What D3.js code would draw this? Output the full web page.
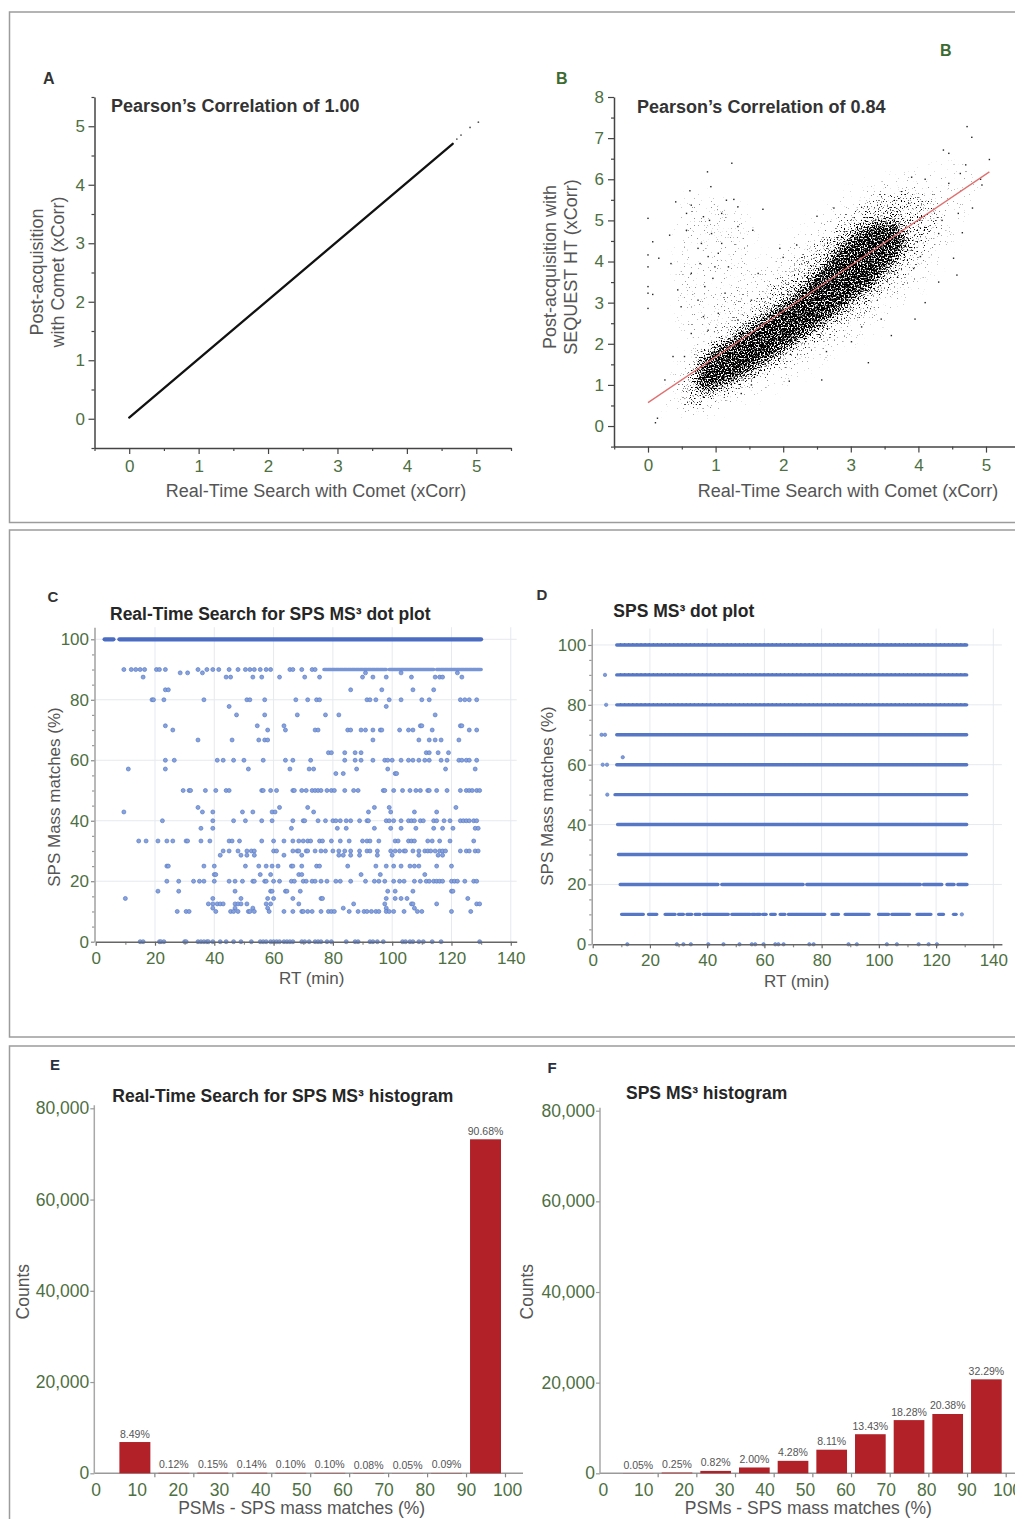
<!DOCTYPE html>
<html>
<head>
<meta charset="utf-8">
<script src="https://cdn.jsdelivr.net/npm/d3@7"></script>
<style>
  body { margin: 0; background: #fff; }
  svg { display: block; font-family: "Liberation Sans", Arial, Helvetica, sans-serif; }
</style>
</head>
<body>
<svg id="fig" width="1015" height="1519"></svg>
<script>
// ---------- tick labels ----------
const xcorrTicks = [0, 1, 2, 3, 4, 5];
const xcorrHalf = [-0.5, 0.5, 1.5, 2.5, 3.5, 4.5, 5.5];
const seqTicks = [0, 1, 2, 3, 4, 5, 6, 7, 8];
const seqHalf = [-0.5, 0.5, 1.5, 2.5, 3.5, 4.5, 5.5, 6.5, 7.5];
const rtTicks = [0, 20, 40, 60, 80, 100, 120, 140];
const rtMinor = [10, 30, 50, 70, 90, 110, 130];
const pctTicks = [0, 20, 40, 60, 80, 100];
const pctMinor = [5, 10, 15, 25, 30, 35, 45, 50, 55, 65, 70, 75, 85, 90, 95];
const binTicks = [0, 10, 20, 30, 40, 50, 60, 70, 80, 90, 100];
const binStarts = [0, 10, 20, 30, 40, 50, 60, 70, 80, 90];
const countTicks = [0, 20000, 40000, 60000, 80000];

// ---------- panel A: real-time vs post-acquisition Comet xCorr ----------
const aTrend = [[0, 0.02], [4.66, 4.7]];
const aTail = [[4.72, 4.78], [4.78, 4.85], [4.91, 4.98], [5.03, 5.07]];

// ---------- panel B: Comet vs SEQUEST HT ----------
const bFit = [[0, 0.57], [5.05, 6.18]];
// density zones of the point cloud (xCorr units) and how dense each one is
const bOuter = [[0.3, 0.25], [0.3, 0.9], [0.5, 1.6], [0.9, 2.5], [1.3, 3.3], [1.7, 4.0], [2.1, 4.6], [2.6, 5.2], [3.1, 5.8], [3.7, 6.1], [4.3, 6.3], [4.7, 6.4], [4.9, 6.0], [4.7, 5.3], [4.5, 4.5], [4.2, 3.7], [3.8, 3.0], [3.3, 2.3], [2.8, 1.8], [2.2, 1.2], [1.6, 0.7], [1.0, 0.35], [0.6, 0.2]];
const bMid = [[0.5, 0.6], [0.55, 1.2], [0.8, 1.8], [1.2, 2.4], [1.6, 3.1], [2.0, 3.7], [2.4, 4.3], [2.8, 4.9], [3.2, 5.4], [3.7, 5.75], [4.15, 5.6], [4.3, 4.9], [4.05, 4.2], [3.75, 3.55], [3.35, 2.95], [2.9, 2.4], [2.4, 1.9], [1.9, 1.4], [1.4, 0.95], [1.0, 0.6], [0.7, 0.45]];
const bCore = [[0.72, 1.0], [0.75, 1.5], [0.95, 1.85], [1.35, 2.25], [1.75, 2.7], [2.15, 3.2], [2.5, 3.75], [2.8, 4.3], [3.1, 4.75], [3.45, 5.0], [3.75, 4.85], [3.8, 4.4], [3.6, 3.9], [3.3, 3.4], [2.95, 2.95], [2.6, 2.5], [2.2, 2.05], [1.8, 1.6], [1.4, 1.2], [1.0, 0.9], [0.8, 0.82]];
const bUpperLeft = [[0.5, 2.4], [0.45, 4.0], [0.55, 5.5], [0.9, 5.6], [1.3, 5.4], [1.55, 4.6], [1.45, 3.4], [1.1, 2.4], [0.8, 2.1]];
const bZones = [bOuter, bUpperLeft, bMid, bCore];
const bDensity = [0.09, 0.11, 0.24, 0.7];
// stray points outside the dense cloud
const bPoints = [[0, 5.05], [0, 4.16], [0, 3.87], [0, 3.39], [0, 3.23], [0, 2.86], [0.07, 4.48], [0.32, 4.64], [0.16, 4.08], [0.34, 3.95], [0.11, 0.08], [0.14, 0.19], [0.41, 5.45], [0.62, 5.72], [0.88, 6.18], [0.93, 5.82], [1.24, 6.39], [1.27, 5.51], [1.7, 5.27], [1.55, 4.76], [1.95, 4.32], [3.26, 1.54], [2.57, 1.12], [2.09, 1.09], [4.57, 3.67], [4.52, 4.08], [4.72, 7.28], [4.79, 7.02], [4.37, 6.71], [4.45, 6.63], [5.05, 6.48], [3.93, 3.83], [4.03, 4.12], [4.3, 4.68], [4.35, 5.0], [4.62, 6.14], [4.94, 5.86], [4.59, 5.17], [4.92, 6.0], [3.01, 2.05], [2.64, 1.81], [3.16, 2.41], [0.54, 1.69], [0.37, 1.69], [0.25, 1.12], [0.82, 0.71], [1.38, 0.79], [1.53, 1.0], [0.57, 5.17], [0.64, 5.37], [0.82, 5.09], [0.94, 4.68], [1.09, 5.17], [1.33, 4.85], [0.74, 4.32], [0.89, 4.12], [1.04, 4.2], [1.19, 3.87], [0.64, 3.71], [0.84, 3.39], [0.96, 3.59], [1.14, 3.23], [0.74, 3.06], [0.49, 2.9], [1.04, 2.74], [1.33, 2.58], [0.89, 2.33], [0.64, 2.25], [1.28, 2.17], [1.53, 3.06], [1.63, 3.71], [1.33, 5.33], [1.16, 5.49], [0.57, 4.76], [0.79, 4.44], [0.99, 3.87], [1.09, 4.44], [0.91, 5.0], [0.77, 3.95], [0.44, 3.31], [0.82, 2.66], [0.07, 3.2], [2.0, 4.1], [2.2, 4.4], [2.5, 5.1], [2.75, 5.3], [3.95, 2.6], [4.1, 3.0], [4.3, 3.5], [3.6, 2.2], [3.45, 2.6], [4.65, 4.7], [4.8, 5.3], [4.45, 5.9], [4.1, 6.0], [3.9, 6.05], [4.7, 6.35]];

// ---------- panel C: RTS SPS MS3 dot plot (RT in min per SPS match level) ----------
const cFull = [[3, 6], [8, 130]];          // continuous run at 100 %
const cDense90 = [[77, 98], [99, 114], [115, 130]];
const cRows = [
  { pct: 90, rt: [9.5, 12, 13.5, 15, 16.5, 20.5, 21.5, 23.5, 34.5, 37.5, 39.5, 41.5, 45, 48, 50.5, 52, 53.5, 55.5, 57.5, 59, 65.5, 66.5, 69.5, 73, 74] },
  { pct: 88.9, rt: [28.5, 31, 36, 91, 103, 122] },
  { pct: 87.5, rt: [16, 44, 45.5, 53, 56, 62, 70.5, 75.5, 90, 93.5, 98, 106.5, 114.5, 116, 117, 123.5] },
  { pct: 83.3, rt: [23.5, 24.5, 86, 96.5, 107, 114] },
  { pct: 80, rt: [19, 19.5, 23, 36.5, 51, 52, 57, 67.5, 71.5, 74.5, 75.5, 91.5, 92.5, 94.5, 99, 103, 110, 112.5, 123, 124.5, 126, 128.5] },
  { pct: 77.8, rt: [45, 98] },
  { pct: 75, rt: [47.5, 57, 68, 77.5, 82, 114.5] },
  { pct: 71.4, rt: [23.5, 54.5, 63.5, 109.5, 110, 123, 123.5] },
  { pct: 70, rt: [26, 58, 64, 74, 75, 85, 86, 89.5, 91, 93.5, 96, 96.5, 102.5, 105.5, 107, 113.5, 126, 128.5] },
  { pct: 66.7, rt: [34.5, 46, 55, 57, 58, 93.5, 109, 112.5, 114.5, 116.5, 122.5] },
  { pct: 62.5, rt: [78.5, 79.5, 84, 87.5, 89.5, 111.5, 112.5, 115.5, 119] },
  { pct: 60, rt: [23.5, 26.5, 41, 43, 46.5, 50, 56.5, 64, 66.5, 72.5, 84, 87.5, 89.5, 93.5, 97.5, 98.5, 100, 103, 105.5, 107, 109, 111, 112.5, 116.5, 118.5, 122.5, 123.5, 125, 126, 128.5] },
  { pct: 57.1, rt: [11, 23.5, 51.5, 65.5, 72, 73.5, 88, 98.5, 118, 128] },
  { pct: 55.6, rt: [81, 83.5, 101, 101.5] },
  { pct: 50, rt: [29.5, 31.5, 32, 37, 40.5, 44, 45, 56, 56.5, 59, 61, 66.5, 67, 69.5, 71, 73, 74, 75, 76, 78, 79.5, 80.5, 84, 87, 88.5, 97, 97.5, 100.5, 103.5, 106, 108, 109.5, 112, 112.5, 115, 118.5, 123, 125, 126, 127, 128.5, 129.5] },
  { pct: 44.4, rt: [34.5, 62, 71.5, 94, 99, 121.5] },
  { pct: 42.9, rt: [9.5, 36, 39.5, 49.5, 53, 59.5, 60.5, 73.5, 92, 99.5, 107.5, 115] },
  { pct: 40, rt: [22.5, 39.5, 46.5, 50.5, 56, 59.5, 66.5, 70, 70.5, 75, 77.5, 80, 81, 82.5, 84.5, 86, 89, 91.5, 92, 98, 99, 100.5, 103, 105.5, 106.5, 107.5, 109.5, 110.5, 114, 115, 117.5, 119.5, 123, 124, 125, 126, 127.5, 128.5] },
  { pct: 37.5, rt: [35.5, 39.5, 66, 81.5, 84.5, 94, 99.5, 103, 108, 114, 117, 120.5, 128, 129] },
  { pct: 33.3, rt: [14.5, 17, 21, 24, 26, 30.5, 31, 35.5, 38.5, 45, 46, 48.5, 56, 60, 63.5, 66.5, 68.5, 70, 71.5, 72.5, 75.5, 76.5, 79.5, 82.5, 85.5, 90, 91.5, 92.5, 95.5, 101, 102, 105.5, 106.5, 107.5, 112, 113.5, 116, 119.5, 127.5] },
  { pct: 30, rt: [43, 45, 48, 51, 52.5, 53.5, 60, 61, 66.5, 68, 68.5, 71, 71.5, 74, 76, 77.5, 80, 82, 84, 86, 89, 91.5, 92.5, 95, 99.5, 101, 102.5, 104, 104.5, 107, 109, 111, 112, 113, 114.5, 116, 117, 118, 123, 125, 126, 128, 129] },
  { pct: 28.6, rt: [42, 49, 51, 53.5, 63.5, 69.5, 82, 83.5, 86, 89, 95, 100, 109, 115.5, 117] },
  { pct: 25, rt: [24, 24.5, 36.5, 40, 50.5, 55, 57.5, 59.5, 61.5, 66, 66.5, 69.5, 74.5, 75.5, 85, 94.5, 98, 100.5, 103, 106, 107.5, 109, 115, 120] },
  { pct: 22.2, rt: [40, 40.5, 55.5, 59, 68.5, 69.5, 89.5, 96, 111] },
  { pct: 20, rt: [24, 28, 33, 35, 36.5, 40, 45, 47, 49.5, 53, 53.5, 57, 57.5, 60, 62, 66, 67, 70, 71, 73, 74, 76, 78, 81, 82.5, 86, 91, 94, 95.5, 97.5, 100.5, 102.5, 104, 107.5, 109.5, 111.5, 112.5, 114, 115, 116, 117, 120, 121, 122, 124.5, 127.5, 128.5] },
  { pct: 16.7, rt: [21, 28, 47, 59, 59.5, 64, 64.5, 69, 98.5, 101, 107, 120, 120.5] },
  { pct: 14.3, rt: [10, 39.5, 49, 58, 60, 66.5, 76, 76.5, 98, 101, 103, 105, 125.5] },
  { pct: 12.5, rt: [38, 39.5, 41, 42, 43, 47, 48, 49, 51, 57.5, 59, 68.5, 87, 97.5, 106.5, 107, 115, 128.5, 129.5] },
  { pct: 11.1, rt: [39.5, 47, 53, 58, 83.5, 98, 107.5] },
  { pct: 10, rt: [27.5, 30.5, 31.5, 40.5, 45.5, 46.5, 48, 51.5, 52, 53.5, 58.5, 63.5, 66.5, 69.5, 70, 71.5, 73, 76, 78.5, 79.5, 80.5, 85.5, 88.5, 90.5, 91.5, 93, 94.5, 95.5, 98, 99, 100.5, 104, 108.5, 110, 120, 126.5] },
  { pct: 0, rt: [15, 16, 21.5, 22, 23, 30, 30.5, 34.5, 35.5, 36.5, 37.5, 38, 39.5, 42, 44, 46.5, 49, 52.5, 55.5, 56.5, 57.5, 59, 60, 61, 62, 63.5, 64.5, 65.5, 66.5, 69.5, 70.5, 72, 74, 75, 76, 78, 79.5, 84.5, 87.5, 88.5, 92.5, 93.5, 95, 97, 103.5, 104.5, 106, 107, 109, 110.5, 113.5, 116.5, 129.5] }
];

// ---------- panel D: SPS MS3 dot plot, runs of points per level ----------
const dRows = [
  { pct: 100, runs: [[8.4, 130.7]], rt: [] },
  { pct: 90, runs: [[8.4, 130.7]], rt: [4.3] },
  { pct: 80, runs: [[8.4, 130.7]], rt: [4.7] },
  { pct: 70, runs: [[8.4, 130.7]], rt: [3.1, 4.3] },
  { pct: 62.5, runs: [], rt: [10.5] },
  { pct: 60, runs: [[8.4, 130.7]], rt: [3.5, 5.0] },
  { pct: 50, runs: [[7.8, 130.7]], rt: [5.1] },
  { pct: 40, runs: [[8.7, 130.7]], rt: [] },
  { pct: 30, runs: [[9.0, 130.7]], rt: [] },
  { pct: 20, runs: [[9.6, 43.9], [45.1, 73.7], [74.8, 114.5], [115.6, 122], [123.8, 126.3], [127.6, 130.8]], rt: [] },
  { pct: 10, runs: [[10.1, 17.7], [19.5, 22.4], [25.3, 28.8], [30, 31.7], [32.9, 34.6], [35.8, 37.5], [38.7, 47.4], [48.6, 55], [55.6, 56.8], [57.3, 58.5], [59.4, 60.6], [62.2, 63.8], [65.5, 67.2], [68.4, 81.2], [83.6, 85.9], [88.2, 96.7], [99.9, 103.4], [104.5, 110.7], [113.3, 118.2], [120.9, 122.6], [126.1, 127]], rt: [129] },
  { pct: 0, runs: [], rt: [12.1, 29.4, 31.7, 34.3, 40.4, 45.7, 51.3, 55.6, 56.8, 59.7, 63.8, 64.9, 66.7, 75.7, 77.2, 89.4, 92.3, 102.8, 106.3, 113.9, 117.4, 120.3] }
];

// ---------- panels E / F: histograms ----------
const eCounts = [6854, 97, 121, 113, 81, 81, 65, 40, 73, 73206];
const ePct = ["8.49%", "0.12%", "0.15%", "0.14%", "0.10%", "0.10%", "0.08%", "0.05%", "0.09%", "90.68%"];
const fCounts = [32, 161, 527, 1284, 2748, 5207, 8622, 11736, 13084, 20730];
const fPct = ["0.05%", "0.25%", "0.82%", "2.00%", "4.28%", "8.11%", "13.43%", "18.28%", "20.38%", "32.29%"];

// ================= drawing =================
const GREEN = "#4d6f42";
const LABEL = "#555";
const DARK = "#262626";
const svg = d3.select("#fig");

// panel frames
svg.append("g").selectAll("rect").data([[12, 522.5], [530, 1037], [1046, 1535]]).join("rect")
  .attr("x", 9.5).attr("y", d => d[0]).attr("width", 1030).attr("height", d => d[1] - d[0])
  .attr("fill", "none").attr("stroke", "#9c9c9c").attr("stroke-width", 1.5);

function txt(x, y, s, o = {}) {
  const t = svg.append("text").attr("x", x).attr("y", y)
    .attr("fill", o.fill || LABEL)
    .style("font-size", (o.size || 17) + "px")
    .attr("font-weight", o.bold ? "bold" : null)
    .attr("text-anchor", o.anchor || "start");
  if (o.rotate) t.attr("transform", `rotate(-90,${x},${y})`);
  return t.text(s);
}

function axis(gen, tx, ty, o = {}) {
  const g = svg.append("g").attr("transform", `translate(${tx},${ty})`).call(gen)
    .attr("font-family", null).attr("font-size", null);
  g.select(".domain").attr("stroke", o.line || "#444").attr("stroke-width", o.lw || 1.5);
  g.selectAll(".tick line").attr("stroke", o.tick || o.line || "#444").attr("stroke-width", 1.2);
  g.selectAll(".tick text").attr("fill", GREEN).style("font-size", (o.size || 17) + "px");
  if (o.noDomain) g.select(".domain").remove();
  return g;
}
const intFmt = d3.format("d");

// ---------- A ----------
const xA = d3.scaleLinear().domain([-0.5, 5.5]).range([94.5, 511]);
const yA = d3.scaleLinear().domain([-0.5, 5.5]).range([448, 97]);
axis(d3.axisBottom(xA).tickValues(xcorrHalf).tickSize(3).tickFormat(""), 0, 448, { noDomain: true });
axis(d3.axisLeft(yA).tickValues(xcorrHalf).tickSize(3).tickFormat(""), 94.5, 0, { noDomain: true });
axis(d3.axisBottom(xA).tickValues(xcorrTicks).tickFormat(intFmt).tickSize(6).tickPadding(6).tickSizeOuter(0), 0, 448);
axis(d3.axisLeft(yA).tickValues(xcorrTicks).tickFormat(intFmt).tickSize(6).tickPadding(3.5).tickSizeOuter(0), 94.5, 0);

const lineA = d3.line().x(d => xA(d[0])).y(d => yA(d[1]));
svg.append("path").datum(aTrend).attr("d", lineA).attr("fill", "none")
  .attr("stroke", "#111").attr("stroke-width", 2.3).attr("stroke-linecap", "round");
svg.append("g").selectAll("circle").data(aTail).join("circle")
  .attr("cx", d => xA(d[0])).attr("cy", d => yA(d[1])).attr("r", 0.9).attr("fill", "#555");

txt(43, 84, "A", { bold: true, fill: "#333", size: 16 });
txt(111, 112, "Pearson\u2019s Correlation of 1.00", { bold: true, fill: "#333", size: 18 });
txt(43, 272, "Post-acquisition", { anchor: "middle", rotate: true, size: 18 });
txt(64, 272, "with Comet (xCorr)", { anchor: "middle", rotate: true, size: 18 });
txt(316, 497, "Real-Time Search with Comet (xCorr)", { anchor: "middle", size: 18 });

// ---------- B ----------
const xB = d3.scaleLinear().domain([-0.5, 5.5]).range([614.2, 1019.8]);
const yB = d3.scaleLinear().domain([-0.5, 8]).range([446.6, 97]);

const defs = svg.append("defs");
const flt = defs.append("filter").attr("id", "speckle").attr("filterUnits", "userSpaceOnUse")
  .attr("x", 614).attr("y", 95).attr("width", 405).attr("height", 352)
  .attr("color-interpolation-filters", "sRGB");
flt.append("feGaussianBlur").attr("in", "SourceGraphic").attr("stdDeviation", 6).attr("result", "dens");
flt.append("feTurbulence").attr("type", "fractalNoise").attr("baseFrequency", 0.7)
  .attr("numOctaves", 1).attr("seed", 7).attr("result", "noise");
flt.append("feColorMatrix").attr("in", "noise").attr("type", "matrix")
  .attr("values", "0 0 0 0 0  0 0 0 0 0  0 0 0 0 0  2.2 0 0 0 -0.6").attr("result", "n");
flt.append("feComposite").attr("in", "dens").attr("in2", "n").attr("operator", "arithmetic")
  .attr("k1", 0).attr("k2", 4).attr("k3", -4).attr("k4", 0);

const zoneLine = d3.line().x(d => xB(d[0])).y(d => yB(d[1])).curve(d3.curveCatmullRomClosed);
svg.append("g").attr("filter", "url(#speckle)")
  .selectAll("path").data(bZones).join("path")
  .attr("d", zoneLine).attr("fill", "#000").attr("fill-opacity", (d, i) => bDensity[i]);

svg.append("g").selectAll("rect").data(bPoints).join("rect")
  .attr("x", d => xB(d[0]) - 0.7).attr("y", d => yB(d[1]) - 0.7)
  .attr("width", 1.4).attr("height", 1.4).attr("fill", "#222");

svg.append("path").datum(bFit).attr("d", d3.line().x(d => xB(d[0])).y(d => yB(d[1])))
  .attr("stroke", "#e07070").attr("stroke-width", 1.3).attr("fill", "none");

axis(d3.axisBottom(xB).tickValues(xcorrHalf).tickSize(3).tickFormat(""), 0, 446.6, { noDomain: true });
axis(d3.axisLeft(yB).tickValues(seqHalf).tickSize(3).tickFormat(""), 614, 0, { noDomain: true });
axis(d3.axisBottom(xB).tickValues(xcorrTicks).tickFormat(intFmt).tickSize(6).tickPadding(6).tickSizeOuter(0), 0, 446.6);
axis(d3.axisLeft(yB).tickValues(seqTicks).tickFormat(intFmt).tickSize(6).tickPadding(4).tickSizeOuter(0), 614, 0);

txt(556, 84, "B", { bold: true, fill: "#3c6a31", size: 16 });
txt(940, 56, "B", { bold: true, fill: "#3c6a31", size: 16 });
txt(637, 113, "Pearson\u2019s Correlation of 0.84", { bold: true, fill: "#333", size: 18 });
txt(556, 267, "Post-acquisition with", { anchor: "middle", rotate: true, size: 18 });
txt(577, 267, "SEQUEST HT (xCorr)", { anchor: "middle", rotate: true, size: 18 });
txt(848, 497, "Real-Time Search with Comet (xCorr)", { anchor: "middle", size: 18 });

// ---------- shared for C / D ----------
function dotPanel(x, y, xMax, yMax) {
  svg.append("g").selectAll("line").data(rtTicks.slice(1)).join("line")
    .attr("x1", d => x(d)).attr("x2", d => x(d)).attr("y1", y(0)).attr("y2", y(yMax))
    .attr("stroke", "#e6e9ee");
  svg.append("g").selectAll("line").data(pctTicks.slice(1)).join("line")
    .attr("x1", x(0)).attr("x2", x(xMax)).attr("y1", d => y(d)).attr("y2", d => y(d))
    .attr("stroke", "#e6e9ee");
}
function dotAxes(x, y, yAxisX) {
  axis(d3.axisBottom(x).tickValues(rtMinor).tickSize(3).tickFormat(""), 0, y(0), { noDomain: true, line: "#888" });
  axis(d3.axisLeft(y).tickValues(pctMinor).tickSize(2.5).tickFormat(""), yAxisX, 0, { noDomain: true, line: "#999" });
  axis(d3.axisBottom(x).tickValues(rtTicks).tickSize(4).tickPadding(6).tickSizeOuter(0), 0, y(0), { line: "#666", lw: 1.6 });
  axis(d3.axisLeft(y).tickValues(pctTicks).tickSize(3.5).tickPadding(2).tickSizeOuter(0), yAxisX, 0, { line: "#a0a0a0", tick: "#888" });
}

// ---------- C ----------
const xC = d3.scaleLinear().domain([0, 142]).range([95.7, 516.7]);
const yC = d3.scaleLinear().domain([0, 104]).range([941.7, 627.2]);
dotPanel(xC, yC, 142, 104);

svg.append("g").selectAll("line").data(cFull.map(r => [r, 100]).concat(cDense90.map(r => [r, 90]))).join("line")
  .attr("x1", d => xC(d[0][0])).attr("x2", d => xC(d[0][1]))
  .attr("y1", d => yC(d[1])).attr("y2", d => yC(d[1]))
  .attr("stroke", d => d[1] === 100 ? "#4a6cc3" : "#7895d6")
  .attr("stroke-width", d => d[1] === 100 ? 4.2 : 3.6).attr("stroke-linecap", "round")
  .attr("stroke-dasharray", d => d[1] === 100 ? null : "3.2 0.8");

svg.append("g").selectAll("g").data(cRows).join("g")
  .selectAll("circle").data(r => r.rt.map(t => [t, r.pct])).join("circle")
  .attr("cx", d => xC(d[0])).attr("cy", d => yC(d[1])).attr("r", 2)
  .attr("fill", "#88a2dc").attr("stroke", "#5a7cc8").attr("stroke-width", 0.7);

dotAxes(xC, yC, 94.5);
txt(47.5, 602, "C", { bold: true, fill: "#333", size: 15 });
txt(110, 619.5, "Real-Time Search for SPS MS\u00b3 dot plot", { bold: true, fill: DARK, size: 17.5 });
txt(60, 797, "SPS Mass matches (%)", { anchor: "middle", rotate: true });
txt(311.7, 984, "RT (min)", { anchor: "middle" });

// ---------- D ----------
const xD = d3.scaleLinear().domain([0, 143]).range([592.7, 1001.9]);
const yD = d3.scaleLinear().domain([0, 105.5]).range([944.3, 628.5]);
dotPanel(xD, yD, 143, 105.5);

svg.append("g").selectAll("g").data(dRows).join("g")
  .selectAll("line").data(r => r.runs.map(s => [s, r.pct])).join("line")
  .attr("x1", d => xD(d[0][0])).attr("x2", d => xD(d[0][1]))
  .attr("y1", d => yD(d[1])).attr("y2", d => yD(d[1]))
  .attr("stroke", "#5677c6").attr("stroke-width", 3.4).attr("stroke-linecap", "round")
  .attr("stroke-dasharray", "3.5 0.6");
svg.append("g").selectAll("g").data(dRows).join("g")
  .selectAll("circle").data(r => r.rt.map(t => [t, r.pct])).join("circle")
  .attr("cx", d => xD(d[0])).attr("cy", d => yD(d[1])).attr("r", 1.7)
  .attr("fill", "#7f9bd8").attr("stroke", "#5677c6").attr("stroke-width", 0.6);

dotAxes(xD, yD, 591.7);
txt(536.5, 600, "D", { bold: true, fill: "#333", size: 15 });
txt(613.3, 617.3, "SPS MS\u00b3 dot plot", { bold: true, fill: DARK, size: 17.5 });
txt(553, 796, "SPS Mass matches (%)", { anchor: "middle", rotate: true });
txt(796.7, 987, "RT (min)", { anchor: "middle" });

// ---------- E / F ----------
function histogram(p) {
  const y = d3.scaleLinear().domain([0, 80000]).range([1473.3, p.yTop]);
  svg.append("line").attr("x1", p.axisX).attr("x2", p.xEnd).attr("y1", y(0)).attr("y2", y(0))
    .attr("stroke", "#9a9a9a").attr("stroke-width", 1.5);
  axis(d3.axisBottom(p.bin).tickValues(binTicks.slice(1)).tickSize(4).tickFormat(""), 0, y(0), { noDomain: true, line: "#888" });
  axis(d3.axisBottom(p.lab).tickValues(binTicks).tickSize(0).tickPadding(10), 0, y(0), { noDomain: true, size: 17.5 });
  svg.append("line").attr("x1", p.axisX).attr("x2", p.axisX).attr("y1", y(0)).attr("y2", p.yTop - 3)
    .attr("stroke", "#a8a8a8").attr("stroke-width", 1.5);
  axis(d3.axisLeft(y).tickValues(countTicks).tickSize(4).tickPadding(1).tickFormat(d3.format(",")),
    p.axisX, 0, { noDomain: true, line: "#999", size: 17.5 });

  const pad = 4;
  svg.append("g").selectAll("rect").data(binStarts).join("rect")
    .attr("x", d => p.bin(d) + pad).attr("width", d => p.bin(d + 10) - p.bin(d) - 2 * pad)
    .attr("y", (d, i) => y(p.counts[i])).attr("height", (d, i) => y(0) - y(p.counts[i]))
    .attr("fill", "#b12127");
  svg.append("g").selectAll("text").data(binStarts).join("text")
    .attr("x", d => (p.bin(d) + p.bin(d + 10)) / 2).attr("y", (d, i) => y(p.counts[i]) - 4.5)
    .attr("text-anchor", "middle").attr("fill", "#555").style("font-size", "10.5px")
    .text((d, i) => p.pct[i]);
}

histogram({
  bin: d3.scaleLinear().domain([0, 100]).range([115.4, 505]),
  lab: d3.scaleLinear().domain([0, 100]).range([95.5, 507.1]),
  counts: eCounts, pct: ePct, axisX: 94.3, xEnd: 523, yTop: 1108.3
});
txt(50, 1070, "E", { bold: true, fill: "#2b3040", size: 15 });
txt(112.3, 1101.5, "Real-Time Search for SPS MS\u00b3 histogram", { bold: true, fill: DARK, size: 17.5 });
txt(29, 1291.7, "Counts", { anchor: "middle", rotate: true, size: 17.5 });
txt(301.7, 1514, "PSMs - SPS mass matches (%)", { anchor: "middle", size: 17.5 });

histogram({
  bin: d3.scaleLinear().domain([0, 100]).range([619, 1005.7]),
  lab: d3.scaleLinear().domain([0, 100]).range([602.9, 1007]),
  counts: fCounts, pct: fPct, axisX: 600, xEnd: 1015, yTop: 1110.7
});
txt(547.5, 1073, "F", { bold: true, fill: "#2b3040", size: 15 });
txt(626, 1099, "SPS MS\u00b3 histogram", { bold: true, fill: DARK, size: 17.5 });
txt(533, 1291.7, "Counts", { anchor: "middle", rotate: true, size: 17.5 });
txt(808.3, 1514, "PSMs - SPS mass matches (%)", { anchor: "middle", size: 17.5 });
</script>
</body>
</html>
